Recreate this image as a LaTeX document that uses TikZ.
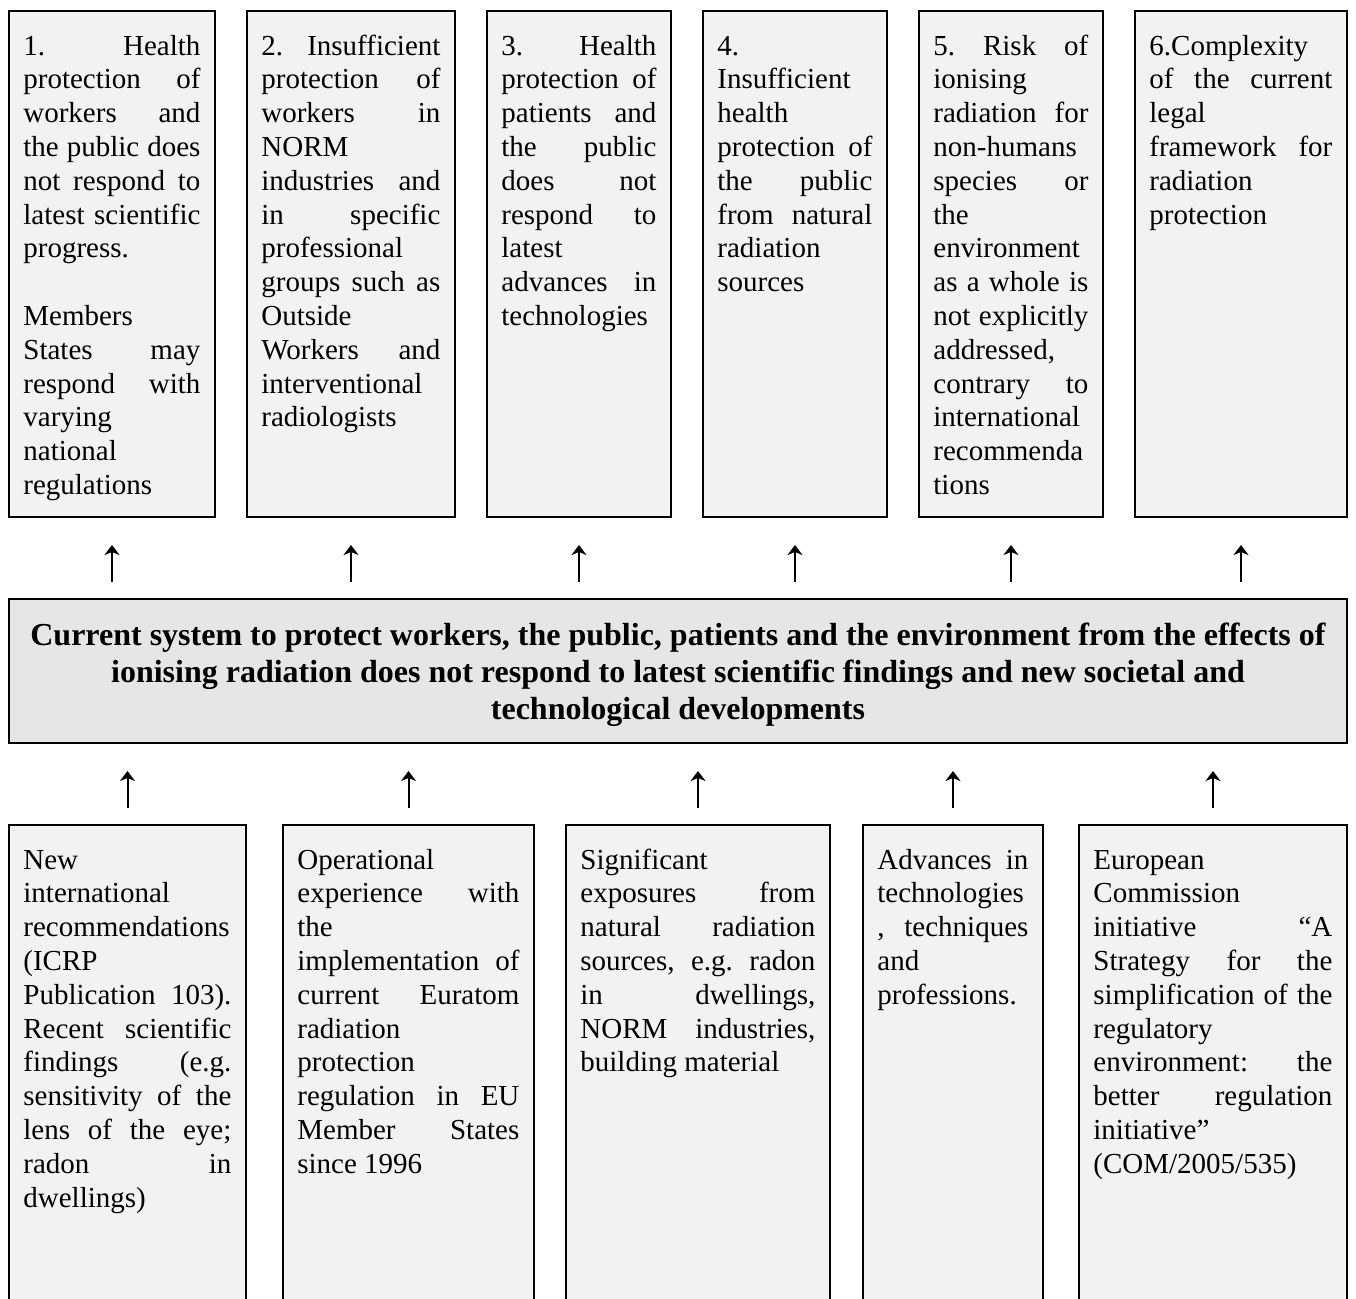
\documentclass[tikz,border=0pt]{standalone}
\usepackage{fontspec}
\setmainfont{Liberation Serif}
\usetikzlibrary{arrows.meta}

\definecolor{cardgray}{HTML}{F2F2F2}
\definecolor{coregray}{HTML}{E6E6E6}

% one justified line, one ragged line, and the text block of a card
\newcommand{\jline}[1]{\hbox to\linewidth{#1}}
\newcommand{\eline}[1]{\hbox{#1}}
\newcommand{\cardtxt}[2]{\parbox[t]{#1}{\fontsize{14.5}{16.9}\selectfont\frenchspacing #2}}

\begin{document}
\begin{tikzpicture}[x=0.5pt, y=-0.5pt,
  card/.style={draw, line width=1pt, fill=cardgray, anchor=north west, inner sep=0pt, outer sep=0pt},
  core/.style={draw, line width=1pt, fill=coregray, outer sep=0pt, minimum width=669pt, minimum height=72pt},
  coretext/.style={align=center, inner sep=0pt, font=\fontsize{16}{18.5}\selectfont\bfseries},
  cardtext/.style={anchor=base west, inner sep=0pt},
  uparrow/.style={line width=1pt, -{Stealth[length=5pt, width=7.5pt, inset=1.5pt]}, shorten >=14pt, shorten <=8.5pt}]
  \useasboundingbox (0,0) rectangle (1356,1298);
  \clip (0,0) rectangle (1356,1298);

  % problems
  \node[card, minimum width=103pt, minimum height=253pt] (t1) at (9,11) {};
  \node[card, minimum width=104pt, minimum height=253pt] (t2) at (247,11) {};
  \node[card, minimum width=92pt, minimum height=253pt] (t3) at (487,11) {};
  \node[card, minimum width=92pt, minimum height=253pt] (t4) at (703,11) {};
  \node[card, minimum width=92pt, minimum height=253pt] (t5) at (919,11) {};
  \node[card, minimum width=106pt, minimum height=253pt] (t6) at (1135,11) {};

  \node[cardtext] (t1txt) at ([xshift=7pt, yshift=-22pt]t1.north west) {\cardtxt{88.5pt}{%
    \jline{1. Health}\jline{protection of}\jline{workers and}\jline{the public does}\jline{not respond to}%
    \jline{latest scientific}\eline{progress.}\eline{}\eline{Members}\jline{States may}\jline{respond with}%
    \eline{varying}\eline{national}\eline{regulations}}};
  \node[cardtext] (t2txt) at ([xshift=7pt, yshift=-22pt]t2.north west) {\cardtxt{89.5pt}{%
    \jline{2. Insufficient}\jline{protection of}\jline{workers in}\eline{NORM}\jline{industries and}%
    \jline{in specific}\eline{professional}\jline{groups such as}\eline{Outside}\jline{Workers and}%
    \eline{interventional}\eline{radiologists}}};
  \node[cardtext] (t3txt) at ([xshift=7pt, yshift=-22pt]t3.north west) {\cardtxt{77.5pt}{%
    \jline{3. Health}\jline{protection of}\jline{patients and}\jline{the public}\jline{does not}%
    \jline{respond to}\eline{latest}\jline{advances in}\eline{technologies}}};
  \node[cardtext] (t4txt) at ([xshift=7pt, yshift=-22pt]t4.north west) {\cardtxt{77.5pt}{%
    \eline{4.}\eline{Insufficient}\eline{health}\jline{protection of}\jline{the public}%
    \jline{from natural}\eline{radiation}\eline{sources}}};
  \node[cardtext] (t5txt) at ([xshift=7pt, yshift=-22pt]t5.north west) {\cardtxt{77.5pt}{%
    \jline{5. Risk of}\eline{ionising}\jline{radiation for}\eline{non-humans}\jline{species or}%
    \eline{the}\eline{environment}\jline{as a whole is}\jline{not explicitly}\eline{addressed,}%
    \jline{contrary to}\eline{international}\eline{recommenda}\eline{tions}}};
  \node[cardtext] (t6txt) at ([xshift=7pt, yshift=-22pt]t6.north west) {\cardtxt{91.5pt}{%
    \eline{6.Complexity}\jline{of the current}\eline{legal}\jline{framework for}\eline{radiation}%
    \eline{protection}}};

  % core problem
  \node[core] (core) at (678,671) {};
  \node[coretext] (coretxt) at ([yshift=-2pt]core.center) {Current system to protect workers, the public, patients and the environment from the effects of\\
    ionising radiation does not respond to latest scientific findings and new societal and\\
    technological developments};

  % drivers
  \node[card, minimum width=118.5pt, minimum height=250pt] (b1) at (9,825) {};
  \node[card, minimum width=125.5pt, minimum height=250pt] (b2) at (283,825) {};
  \node[card, minimum width=132pt, minimum height=250pt] (b3) at (566,825) {};
  \node[card, minimum width=90pt, minimum height=250pt] (b4) at (863,825) {};
  \node[card, minimum width=134pt, minimum height=250pt] (b5) at (1079,825) {};

  \node[cardtext] (b1txt) at ([xshift=7pt, yshift=-22pt]b1.north west) {\cardtxt{104pt}{%
    \eline{New}\eline{international}\eline{recommendations}\eline{(ICRP}\jline{Publication 103).}%
    \jline{Recent scientific}\jline{findings (e.g.}\jline{sensitivity of the}\jline{lens of the eye;}%
    \jline{radon in}\eline{dwellings)}}};
  \node[cardtext] (b2txt) at ([xshift=7pt, yshift=-22pt]b2.north west) {\cardtxt{111pt}{%
    \eline{Operational}\jline{experience with}\eline{the}\jline{implementation of}\jline{current Euratom}%
    \eline{radiation}\eline{protection}\jline{regulation in EU}\jline{Member States}\eline{since 1996}}};
  \node[cardtext] (b3txt) at ([xshift=7pt, yshift=-22pt]b3.north west) {\cardtxt{117.5pt}{%
    \eline{Significant}\jline{exposures from}\jline{natural radiation}\jline{sources, e.g. radon}%
    \jline{in dwellings,}\jline{NORM industries,}\eline{building material}}};
  \node[cardtext] (b4txt) at ([xshift=7pt, yshift=-22pt]b4.north west) {\cardtxt{75.5pt}{%
    \jline{Advances in}\eline{technologies}\jline{, techniques}\eline{and}\eline{professions.}}};
  \node[cardtext] (b5txt) at ([xshift=7pt, yshift=-22pt]b5.north west) {\cardtxt{119.5pt}{%
    \eline{European}\eline{Commission}\jline{initiative “A}\jline{Strategy for the}%
    \jline{simplification of the}\eline{regulatory}\jline{environment: the}\jline{better regulation}%
    \eline{initiative”}\eline{(COM/2005/535)}}};

  % arrows
  \foreach \i in {1,...,6}
    \draw[uparrow] (core.north -| t\i.south) -- (t\i.south);
  \foreach \i in {1,...,5}
    \draw[uparrow] (b\i.north) -- (core.south -| b\i.north);
\end{tikzpicture}
\end{document}
